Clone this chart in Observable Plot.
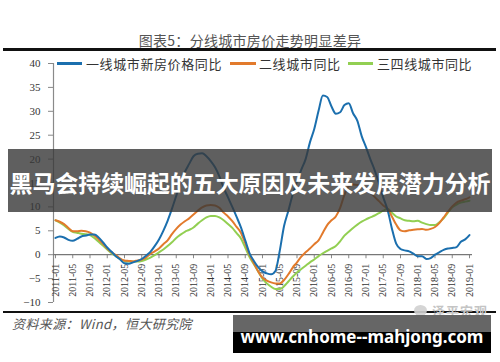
<!DOCTYPE html>
<html><head><meta charset="utf-8">
<script src="https://cdn.jsdelivr.net/npm/d3@7"></script>
<script src="https://cdn.jsdelivr.net/npm/@observablehq/plot@0.6"></script>
<style>
body{margin:0;background:#fff;}
#wrap{position:relative;width:500px;height:362px;overflow:hidden;background:#fff;font-family:"Noto Sans CJK SC","Noto Sans",sans-serif;}
#wrap svg{position:absolute;left:0;top:0;}
.abs{position:absolute;white-space:nowrap;}
</style></head><body><div id="wrap"></div>
<script>
const title = "图表5：分线城市房价走势明显差异";
const source = "资料来源：Wind，恒大研究院";
const bannerText = "黑马会持续崛起的五大原因及未来发展潜力分析";
const siteText = "www.cnhome--mahjong.com";
const watermark = "泽平宏观";
const seriesNames = ["一线城市新房价格同比", "二线城市同比", "三四线城市同比"];
const colors = ["#1b6fae", "#e27a2c", "#92cf52"];
const tickLabels = ["2011-01","2011-05","2011-09","2012-01","2012-05","2012-09","2013-01","2013-05","2013-09","2014-01","2014-05","2014-09","2015-01","2015-05","2015-09","2016-01","2016-05","2016-09","2017-01","2017-05","2017-09","2018-01","2018-05","2018-09","2019-01"];
const yTicks = [-10, -5, 0, 5, 10, 15, 20, 25, 30, 35, 40];
// monthly values 2011-01 .. 2019-01
const tier1 = [3.5,3.8,3.6,3.1,2.9,3.3,3.8,4.0,4.2,4.2,3.6,2.6,1.5,0.6,-0.3,-1.0,-1.8,-1.9,-1.6,-1.3,-0.9,-0.2,0.6,1.8,3.2,5.0,7.1,9.6,12.3,15.0,17.3,19.0,20.6,21.1,21.2,20.6,19.6,18.3,16.4,14.0,12.0,10.0,7.9,5.7,3.0,0.3,-1.3,-2.6,-3.5,-3.9,-4.1,-3.4,0.8,6.0,9.2,12.6,15.3,17.8,20.0,23.5,26.3,30.1,33.3,33.0,31.0,29.5,29.8,31.3,31.7,29.6,28.0,24.8,22.5,20.0,17.7,15.0,12.0,9.4,5.5,2.3,1.2,0.9,0.7,0.2,-0.3,-0.3,-0.9,-0.7,0.0,0.5,1.0,1.3,1.4,1.6,2.7,3.2,4.1];
const tier2 = [7.2,6.9,6.4,5.6,4.9,4.9,5.0,4.9,4.6,4.0,3.2,2.3,1.3,0.5,-0.1,-0.8,-1.2,-1.3,-1.4,-1.2,-1.0,-0.6,0.2,0.7,1.3,2.2,3.0,4.3,5.4,6.3,7.0,7.6,8.4,9.2,9.9,10.3,10.4,10.3,9.8,8.8,8.0,7.0,5.8,4.6,2.4,0.0,-1.8,-3.5,-4.8,-5.4,-5.8,-6.0,-6.0,-5.3,-4.1,-2.7,-1.6,-0.4,0.5,1.3,2.2,3.0,4.6,6.2,7.2,8.0,9.8,12.5,14.3,14.7,14.6,14.2,13.6,12.9,12.1,11.2,10.3,9.6,8.0,6.3,5.1,4.9,5.1,5.2,5.3,5.4,5.2,5.4,5.8,6.6,7.8,9.0,10.1,10.9,11.3,11.6,12.0];
const tier34 = [7.2,6.7,6.1,5.4,4.8,4.6,4.4,4.3,4.1,3.5,2.7,1.9,1.1,0.3,-0.3,-0.9,-1.3,-1.4,-1.4,-1.4,-1.3,-1.0,-0.6,-0.1,0.5,1.1,1.8,2.6,3.5,4.2,4.8,5.2,5.7,6.5,7.2,7.8,8.1,8.1,7.8,7.2,6.4,5.6,4.5,3.4,1.5,-0.5,-2.0,-3.5,-5.0,-6.0,-6.7,-7.2,-7.2,-6.6,-5.6,-4.6,-3.7,-3.0,-2.3,-1.6,-1.0,-0.3,0.3,0.8,1.3,1.8,2.8,4.0,4.8,5.6,6.3,6.9,7.4,7.8,8.2,8.7,9.2,9.6,8.8,8.0,7.6,7.2,7.1,7.0,7.1,6.7,6.4,6.2,6.2,6.8,7.6,8.8,9.9,10.5,10.9,11.1,11.3];

const seriesValues = [tier1, tier2, tier34];
const rows = seriesNames.flatMap((name, s) => seriesValues[s].map((v, m) => ({m, v, name})));
const tickIdx = tickLabels.map((_, i) => i * 4);
const xMin = -0.46;
const serif = "'Liberation Serif','DejaVu Serif',serif";

const chart = Plot.plot({
  width: 500, height: 362,
  marginLeft: 53, marginRight: 31, marginTop: 63, marginBottom: 60,
  x: {domain: [xMin, 96], axis: null},
  y: {domain: [-10, 40], axis: null},
  color: {domain: seriesNames, range: colors},
  style: {background: "transparent", fontFamily: serif, overflow: "visible"},
  marks: [
    Plot.axisY({ticks: yTicks, tickSize: 5, tickPadding: 8, fontSize: 11, color: "#333", stroke: "#888", label: null}),
    Plot.ruleX([xMin], {stroke: "#8a8a8a", strokeWidth: 1.2}),
    Plot.ruleX(tickIdx, {x: d => d, y1: 0, y2: -0.85, stroke: "#888"}),
    Plot.text(tickIdx, {x: d => d, y: 0, text: (d, i) => tickLabels[i], rotate: -90, textAnchor: "end", dy: 9, fontSize: 10, fill: "#333"}),
    Plot.ruleY([0], {stroke: "#777", strokeWidth: 1.2, insetRight: -3}),
    Plot.line(rows.filter(d => d.name === seriesNames[2]), {x: "m", y: "v", stroke: "name", strokeWidth: 2, curve: "monotone-x"}),
    Plot.line(rows.filter(d => d.name === seriesNames[1]), {x: "m", y: "v", stroke: "name", strokeWidth: 2, curve: "monotone-x"}),
    Plot.line(rows.filter(d => d.name === seriesNames[0]), {x: "m", y: "v", stroke: "name", strokeWidth: 2, curve: "monotone-x"})
  ]
});

const wrap = document.getElementById("wrap");
wrap.appendChild(chart);

function add(html, css) {
  const d = document.createElement("div");
  d.className = "abs";
  d.style.cssText = css;
  d.innerHTML = html;
  wrap.appendChild(d);
  return d;
}
// title and rules
add(title, "left:0;width:500px;top:30px;line-height:20px;text-align:center;font-size:14px;color:#555;letter-spacing:0.3px;");
add("", "left:3px;top:48px;width:493px;height:3px;background:#111;");
add("", "left:3px;top:311px;width:493px;height:2px;background:#111;");
// legend
const legendPos = [[57, 82, 86], [230, 256, 259], [348, 373, 377]];
seriesNames.forEach((name, i) => {
  const [a, b, t] = legendPos[i];
  add("", `left:${a}px;top:62px;width:${b - a}px;height:2.5px;background:${colors[i]};`);
  add(name, `left:${t}px;top:54px;line-height:19px;font-size:13px;letter-spacing:0.6px;color:#333;`);
});
// source
add(source, `left:12px;top:314px;line-height:19px;font-size:13px;font-style:italic;color:#555;letter-spacing:0.4px;`);
// watermark
add("", "left:414px;top:305px;width:13px;height:11px;border-radius:50%;background:#d0d0d0;opacity:0.9;");
add(watermark, "left:432px;top:302px;line-height:17px;font-size:13px;font-weight:bold;color:#c4c4c4;letter-spacing:1px;");
// banner overlay
add(`<div style="width:484px;text-align:center;font-size:23px;font-weight:bold;color:#fff;line-height:63px;padding-top:2px;letter-spacing:-0.1px;">${bannerText}</div>`,
    "left:8px;top:149px;width:484px;height:63px;background:rgba(55,55,55,0.8);");
// site box
add("", "left:233px;top:315px;width:258px;height:17px;background:#666;");
add("", "left:233px;top:332px;width:258px;height:21px;background:#000;");
add(`<div style="width:258px;text-align:center;font-family:'Noto Sans','Open Sans',sans-serif;font-weight:bold;font-size:17px;color:#fff;line-height:24px;">${siteText}</div>`,
    "left:233px;top:325px;width:258px;");
</script></body></html>
